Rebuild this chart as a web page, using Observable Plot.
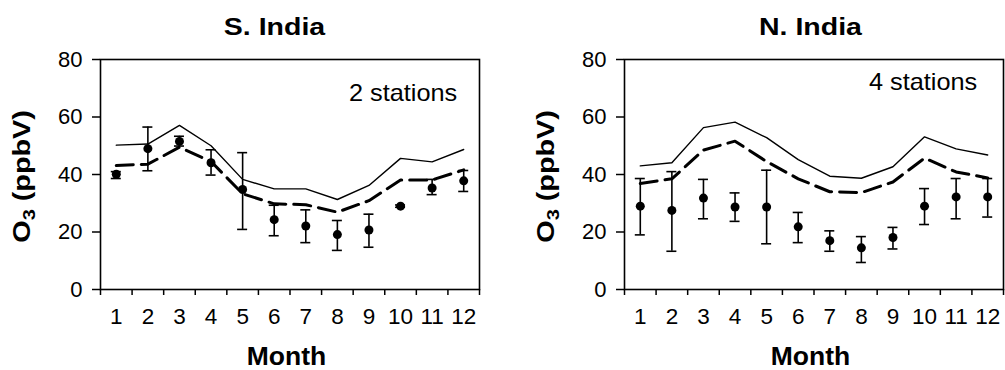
<!DOCTYPE html>
<html>
<head>
<meta charset="utf-8">
<script src="https://cdn.jsdelivr.net/npm/d3@7"></script>
<script src="https://cdn.jsdelivr.net/npm/@observablehq/plot@0.6"></script>
<style>
  html, body { margin: 0; padding: 0; background: #fff; }
  #wrap { display: flex; width: 1005px; height: 370px; }
  svg { display: block; }
</style>
</head>
<body>
<div id="wrap"></div>
<script>
// ---- data ----
const months = [1, 2, 3, 4, 5, 6, 7, 8, 9, 10, 11, 12];
const monthEdges = [0.5, 1.5, 2.5, 3.5, 4.5, 5.5, 6.5, 7.5, 8.5, 9.5, 10.5, 11.5, 12.5];
const yTicks = [0, 20, 40, 60, 80];

const panelTitles = ["S. India", "N. India"];
const stationLabels = ["2 stations", "4 stations"];
const xAxisTitle = "Month";
const yAxisTitle = "O3 (ppbV)";

// S. India
const sIndiaSolid  = [50.2, 50.6, 57.1, 50.0, 38.3, 35.0, 35.0, 31.3, 36.2, 45.6, 44.4, 48.7];
const sIndiaDashed = [43.1, 43.6, 49.5, 44.5, 33.3, 29.8, 29.5, 26.9, 30.9, 38.1, 38.1, 41.6];
const sIndiaObs    = [40.1, 49.0, 51.5, 44.1, 34.8, 24.3, 22.1, 19.1, 20.7, 29.0, 35.3, 37.8];
const sIndiaLow    = [38.6, 41.3, 49.9, 39.8, 20.9, 18.7, 16.3, 13.6, 14.7, 28.6, 33.0, 34.1];
const sIndiaHigh   = [41.0, 56.5, 53.3, 48.6, 47.6, 29.3, 27.7, 24.0, 26.2, 29.4, 38.3, 41.4];

// N. India
const nIndiaSolid  = [43.0, 44.1, 56.3, 58.2, 52.8, 45.2, 39.4, 38.7, 42.7, 53.1, 48.9, 46.8];
const nIndiaDashed = [36.9, 38.5, 48.5, 51.6, 44.5, 38.5, 34.0, 33.7, 37.4, 45.7, 40.9, 38.8];
const nIndiaObs    = [29.0, 27.5, 31.8, 28.7, 28.7, 21.8, 17.0, 14.5, 18.1, 29.0, 32.2, 32.2];
const nIndiaLow    = [19.0, 13.3, 24.6, 23.7, 15.9, 16.3, 13.3, 9.4, 14.1, 22.6, 24.6, 25.2];
const nIndiaHigh   = [38.6, 41.0, 38.3, 33.6, 41.5, 26.8, 20.4, 18.4, 21.6, 35.1, 38.6, 38.6];

const FONT = "'Liberation Sans', Arial, Helvetica, sans-serif";

function makePanel(cfg) {
  const rows = months.map((m, i) => ({
    m, solid: cfg.solid[i], dashed: cfg.dashed[i], obs: cfg.obs[i], lo: cfg.low[i], hi: cfg.high[i]
  }));
  const svg = Plot.plot({
    width: cfg.width,
    height: 370,
    marginTop: 59,
    marginBottom: 81,
    marginLeft: 100,
    marginRight: cfg.marginRight,
    style: { fontFamily: FONT, color: "#000", background: "#fff", overflow: "visible" },
    x: { domain: [0.5, 12.5], axis: null },
    y: { domain: [0, 80], axis: null },
    marks: [
      Plot.axisY({ ticks: yTicks, tickSize: 8, tickPadding: 10, fontSize: 22, label: null, strokeWidth: 1.5 }),
      Plot.axisX({ ticks: monthEdges, tickSize: 6, tickFormat: () => "", label: null, strokeWidth: 1.5 }),
      Plot.axisX({ ticks: months, tickSize: 0, tickPadding: 19, fontSize: 22.5, label: null }),
      Plot.frame({ stroke: "#000", strokeWidth: 1.6 }),
      Plot.line(rows, { x: "m", y: "solid", stroke: "#000", strokeWidth: 1.4 }),
      Plot.line(rows, { x: "m", y: "dashed", stroke: "#000", strokeWidth: 3, strokeDasharray: "17,8" }),
      Plot.ruleX(rows, { x: "m", y1: "lo", y2: "hi", stroke: "#000", strokeWidth: 1.6 }),
      Plot.ruleY(rows, { y: "lo", x1: "m", x2: "m", insetLeft: -5, insetRight: -5, stroke: "#000", strokeWidth: 1.6 }),
      Plot.ruleY(rows, { y: "hi", x1: "m", x2: "m", insetLeft: -5, insetRight: -5, stroke: "#000", strokeWidth: 1.6 }),
      Plot.dot(rows, { x: "m", y: "obs", r: 4.5, fill: "#000", stroke: "none" }),
      Plot.text([cfg.title], { text: d => d, frameAnchor: "top", dx: cfg.titleDx, dy: -24.5, lineAnchor: "bottom",
        fontSize: 23, fontWeight: "bold", fill: "#000" }),
      Plot.text([cfg.stations], { text: d => d, frameAnchor: "top-right", textAnchor: "end", dx: cfg.stDx, dy: cfg.stDy,
        lineAnchor: "bottom", fontSize: 23, fill: "#000" }),
      Plot.text([xAxisTitle], { text: d => d, frameAnchor: "bottom", dx: -3.5, dy: 75, lineAnchor: "bottom",
        fontSize: 26.5, fontWeight: "bold", fill: "#000" }),
      Plot.text([yAxisTitle], { text: d => d, frameAnchor: "left", dx: -78, dy: 2, rotate: -90, lineAnchor: "middle",
        textAnchor: "middle", fontSize: 23, fontWeight: "bold", fill: "#000" })
    ]
  });
  // post-process: subscript in O3 and wide lettering
  svg.querySelectorAll("text").forEach(t => {
    const s = t.textContent;
    if (s === yAxisTitle) {
      t.textContent = "";
      const ns = "http://www.w3.org/2000/svg";
      const a = document.createElementNS(ns, "tspan"); a.textContent = "O";
      const b = document.createElementNS(ns, "tspan"); b.textContent = "3";
      b.setAttribute("dy", "5"); b.setAttribute("font-size", "16");
      const c = document.createElementNS(ns, "tspan"); c.textContent = " (ppbV)"; c.setAttribute("dy", "-5");
      t.append(a, b, c);
      t.setAttribute("transform", (t.getAttribute("transform") || "") + " scale(1.25,1)");
    } else if (panelTitles.includes(s)) {
      t.setAttribute("transform", (t.getAttribute("transform") || "") + " scale(1.24,1)");
    } else if (stationLabels.includes(s)) {
      t.setAttribute("transform", (t.getAttribute("transform") || "") + " scale(1.1,1)");
    }
  });
  return svg;
}

const wrap = document.getElementById("wrap");
wrap.append(
  makePanel({ width: 524, marginRight: 45, title: panelTitles[0], stations: stationLabels[0], titleDx: -15.5,
    stDx: -22.3, stDy: 41, solid: sIndiaSolid, dashed: sIndiaDashed, obs: sIndiaObs, low: sIndiaLow, high: sIndiaHigh }),
  makePanel({ width: 481, marginRight: 2, title: panelTitles[1], stations: stationLabels[1], titleDx: -3.5,
    stDx: -26.3, stDy: 30.3, solid: nIndiaSolid, dashed: nIndiaDashed, obs: nIndiaObs, low: nIndiaLow, high: nIndiaHigh })
);
</script>
</body>
</html>
